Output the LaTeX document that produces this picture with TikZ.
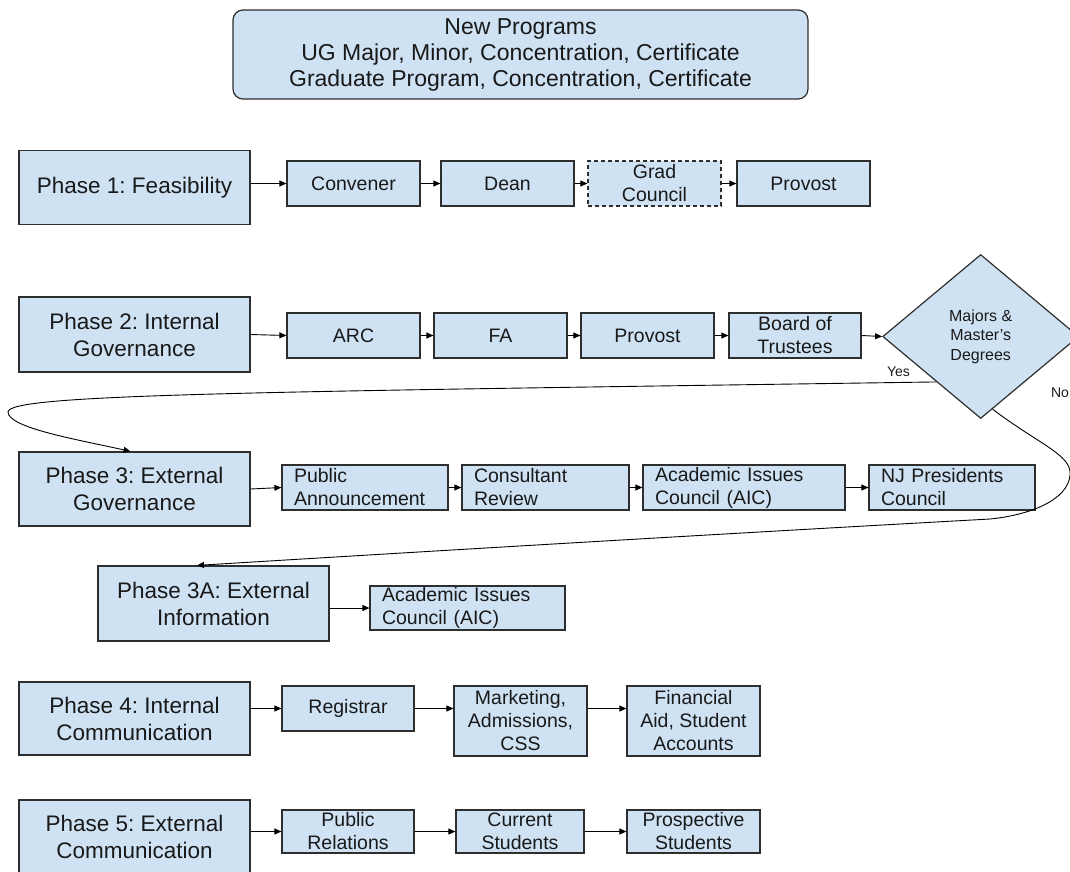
\documentclass[tikz,border=0pt]{standalone}
\usepackage{fontspec}
\setmainfont{Liberation Sans}
\usetikzlibrary{shapes.geometric,arrows.meta,calc}
\definecolor{boxblue}{HTML}{CFE2F3}
\definecolor{boxline}{HTML}{2E2E2E}
\frenchspacing

\begin{document}
\begin{tikzpicture}[x=1pt,y=-1pt,
    box/.style={draw=boxline, line width=1.2pt, fill=boxblue, text=black!90, inner sep=0pt},
    phasebox/.style={box, minimum width=231pt, minimum height=74pt, align=center, font=\fontsize{22.5}{27}\selectfont},
    stepbox/.style={box, minimum width=133pt, minimum height=45pt, align=center, font=\fontsize{19.5}{23}\selectfont},
    notebox/.style={box, inner xsep=12pt, minimum height=45pt, align=left, font=\fontsize{19.5}{23}\selectfont},
    decision/.style={box, diamond, minimum width=196pt, minimum height=164pt, align=center, font=\fontsize{16}{19.5}\selectfont},
    arr/.style={-{Triangle[length=7pt,width=6pt]}, line width=0.9pt, black},
    lbl/.style={font=\fontsize{14}{16}\selectfont, text=black!90, inner sep=0pt}]
        \clip (0,0) rectangle (1070,871);

        \node[box, rounded corners=10pt, minimum width=575pt, minimum height=89pt, align=center,
              font=\fontsize{23}{26}\selectfont] (top) at (520.5,54.5)
              {New Programs\\UG Major, Minor, Concentration, Certificate\\Graduate Program, Concentration, Certificate};

        % phase boxes
        \node[phasebox] (p1) at (134.5,187.5) {Phase 1: Feasibility};
        \node[phasebox, minimum height=75pt] (p2) at (134.5,334.5) {Phase 2: Internal\\Governance};
        \node[phasebox] (p3) at (134.5,489) {Phase 3: External\\Governance};
        \node[phasebox, minimum height=75pt] (p3a) at (213.5,603.5) {Phase 3A: External\\Information};
        \node[phasebox, minimum height=73pt] (p4) at (134.5,718.5) {Phase 4: Internal\\Communication};
        \node[phasebox] (p5) at (134.5,837) {Phase 5: External\\Communication};

        % phase 1
        \node[stepbox] (conv) at (353.5,183.5) {Convener};
        \node[stepbox] (dean) at (507.5,183.5) {Dean};
        \node[stepbox, dash pattern=on 4pt off 3pt] (grad) at (654.5,183.5) {Grad\\Council};
        \node[stepbox] (provA) at (803.5,183.5) {Provost};

        % phase 2
        \node[stepbox] (arc) at (353.5,335.5) {ARC};
        \node[stepbox] (fa) at (500.5,335.5) {FA};
        \node[stepbox] (provB) at (647.5,335.5) {Provost};
        \node[stepbox, minimum width=132pt] (bot) at (795,335.5) {Board of\\Trustees};
        \node[decision] (dia) at (980.7,336.5) {Majors \&\\Master's\\Degrees};

        % phase 3
        \node[notebox, text width=142pt] (pa) at (365,487.5) {Public\\Announcement};
        \node[notebox, text width=143pt] (cr) at (545.5,487.5) {Consultant\\Review};
        \node[notebox, text width=178pt] (aicA) at (744,487.5) {Academic Issues\\Council (AIC)};
        \node[notebox, text width=142pt] (njp) at (952,487.5) {NJ Presidents\\Council};

        % phase 3A
        \node[notebox, text width=171pt, minimum height=44pt] (aicB) at (467.5,608) {Academic Issues\\Council (AIC)};

        % phase 4
        \node[stepbox, minimum width=132pt] (reg) at (348,708.5) {Registrar};
        \node[stepbox, minimum height=70pt] (mkt) at (520.5,721) {Marketing,\\Admissions,\\CSS};
        \node[stepbox, minimum height=70pt] (fin) at (693.5,721) {Financial\\Aid, Student\\Accounts};

        % phase 5
        \node[stepbox, minimum width=132pt, minimum height=43pt] (pr) at (348,831.5) {Public\\Relations};
        \node[stepbox, minimum width=128pt, minimum height=43pt] (cs) at (520,831.5) {Current\\Students};
        \node[stepbox, minimum height=43pt] (ps) at (693.5,831.5) {Prospective\\Students};

        \draw[arr] (p1.east |- conv.west) -- (conv.west);
        \draw[arr] (conv.east) -- (dean.west);
        \draw[arr] (dean.east) -- (grad.west);
        \draw[arr] (grad.east) -- (provA.west);

        \draw[arr] (p2.east) -- (arc.west);
        \draw[arr] (arc.east) -- (fa.west);
        \draw[arr] (fa.east) -- (provB.west);
        \draw[arr] (provB.east) -- (bot.west);
        \draw[arr] (bot.east) -- (dia.west);

        \draw[arr] (p3.east) -- (pa.west);
        \draw[arr] (pa.east) -- (cr.west);
        \draw[arr] (cr.east) -- (aicA.west);
        \draw[arr] (aicA.east) -- (njp.west);

        \draw[arr] (p3a.east |- aicB.west) -- (aicB.west);

        \draw[arr] (p4.east |- reg.west) -- (reg.west);
        \draw[arr] (reg.east) -- (reg.east -| mkt.west);
        \draw[arr] (mkt.east |- reg.east) -- (fin.west |- reg.east);

        \draw[arr] (p5.east |- pr.west) -- (pr.west);
        \draw[arr] (pr.east) -- (cs.west);
        \draw[arr] (cs.east) -- (ps.west);

        % decision branches
        \coordinate (yesstart) at ($(dia.west)!0.55!(dia.south)$);
        \coordinate (nostart) at ($(dia.south)!0.12!(dia.east)$);
        \draw[arr] (yesstart) .. controls (250,392) and (8,394) .. (8,412)
                   .. controls (8,428) and (80,440) .. ([xshift=-4pt]p3.north);
        \draw[arr] (nostart) .. controls (1040,445) and (1072,455) .. (1070,475)
                   .. controls (1068,500) and (1030,515) .. (990,519)
                   .. controls (700,535) and (400,553) .. ([xshift=-16.5pt]p3a.north);
        \node[lbl] (yes) at (898.5,372) {Yes};
        \node[lbl] (no) at (1060,393) {No};
    \end{tikzpicture}
\end{document}
